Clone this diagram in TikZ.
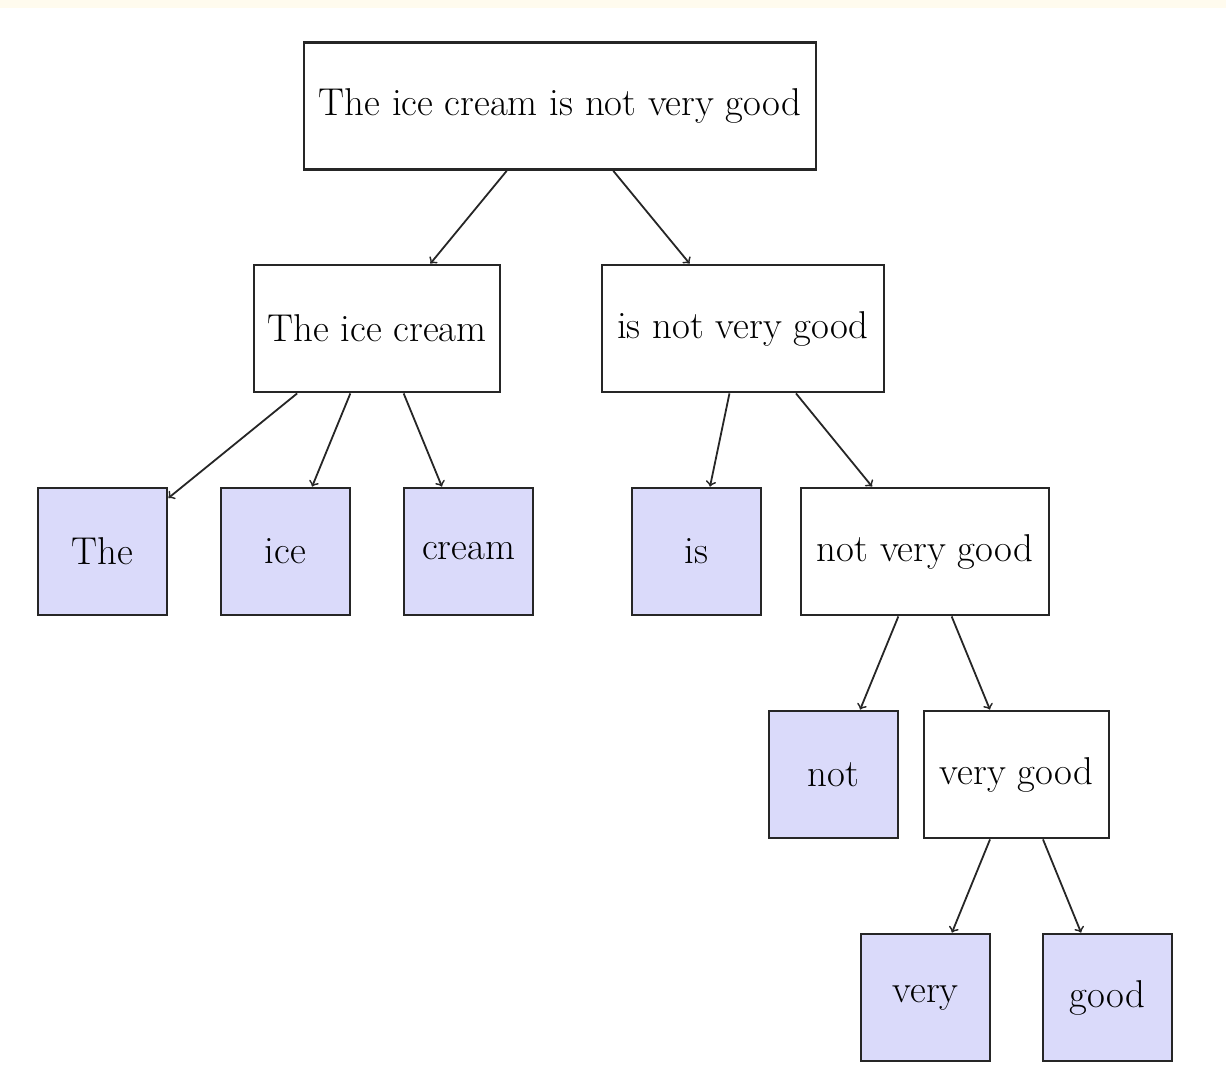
\documentclass[tikz,border=0pt]{standalone}
\definecolor{leaffill}{RGB}{218,218,250}
\definecolor{strip}{RGB}{255,251,238}
\tikzset{
  box/.style={draw=black!85, line width=1.4pt, fill=white, minimum height=63.5pt, inner xsep=1pt,
    font=\fontsize{19.4}{22}\selectfont},
  leaf/.style={box, fill=leaffill, minimum width=64.5pt},
  edge/.style={->, line width=0.9pt, black!85}
}
\begin{document}
\begin{tikzpicture}[x=0.5pt,y=-0.5pt]
\useasboundingbox (0,0) rectangle (1226,1078);
\fill[strip] (0,0) rectangle (1226,8);
\node[box, minimum width=256pt] (top) at (560,106) {The ice cream is not very good};
\node[box, minimum width=123pt] (L) at (377,328.5) {The ice cream};
\node[box, minimum width=141pt] (R) at (743,328.5) {is not very good};
\node[leaf] (the) at (102.5,551.5) {The};
\node[leaf] (ice) at (285.5,551.5) {ice};
\node[leaf] (cream) at (468.5,551.5) {cream};
\node[leaf] (is) at (696.5,551.5) {is};
\node[box, minimum width=124pt] (nvg) at (925,551.5) {not very good};
\node[leaf] (not) at (833.5,774.5) {not};
\node[box, minimum width=92.5pt] (vg) at (1016.5,774.5) {very good};
\node[leaf] (very) at (925.5,997.5) {very};
\node[leaf] (good) at (1107.5,997.5) {good};
\draw[edge] (top) -- (L);
\draw[edge] (top) -- (R);
\draw[edge] (L) -- (the);
\draw[edge] (L) -- (ice);
\draw[edge] (L) -- (cream);
\draw[edge] (R) -- (is);
\draw[edge] (R) -- (nvg);
\draw[edge] (nvg) -- (not);
\draw[edge] (nvg) -- (vg);
\draw[edge] (vg) -- (very);
\draw[edge] (vg) -- (good);
\end{tikzpicture}
\end{document}
